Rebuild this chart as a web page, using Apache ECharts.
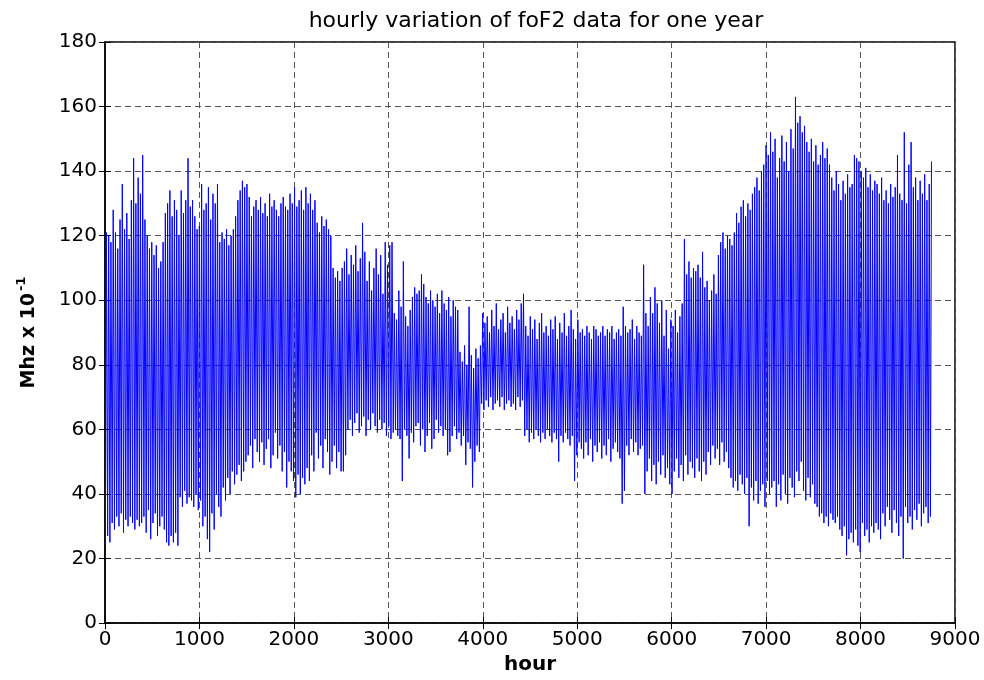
<!DOCTYPE html>
<html>
<head>
<meta charset="utf-8">
<script src="https://cdn.jsdelivr.net/npm/echarts@6/dist/echarts.min.js"></script>
<style>
html,body{margin:0;padding:0;background:#fff;}
#chart{width:984px;height:680px;}
</style>
</head>
<body>
<div id="chart"></div>
<script>
// Estimated daily maximum of foF2 (MHz x 10^-1), day 0..364
const dayMax = [
121,120,118,128,121,116,125,136,122,127,
119,131,144,130,138,133,145,125,120,116,
118,114,117,110,112,118,127,130,134,126,
131,128,120,134,127,131,144,129,131,126,
122,123,136,128,130,135,125,133,130,136,
118,121,119,122,117,120,122,126,131,134,
137,135,136,132,126,129,131,128,132,127,
130,126,133,129,131,128,126,130,132,129,
128,133,130,135,129,131,134,128,135,130,
133,128,131,124,121,126,123,125,122,120,
110,107,109,106,110,112,116,108,114,111,
117,109,113,124,115,106,112,103,110,116,
108,114,102,118,111,117,118,96,94,103,
98,112,95,92,97,101,104,102,103,108,
105,101,99,103,100,98,102,96,103,99,
97,101,95,100,98,97,84,81,86,80,
98,83,79,85,82,86,96,93,95,90,
97,92,99,91,94,96,90,98,93,95,
91,97,94,99,102,92,89,95,91,94,
88,93,96,90,92,89,94,91,95,88,
93,90,96,89,92,97,91,88,94,90,
91,89,92,90,88,92,91,89,90,92,
89,91,90,92,88,90,91,89,98,92,
90,91,94,88,92,90,89,111,96,92,
101,96,104,99,93,100,89,97,85,94,
92,97,90,95,99,119,108,112,107,110,
109,111,107,115,104,106,100,103,108,102,
114,118,121,116,120,119,117,121,127,124,
129,131,126,130,128,133,135,138,134,140,
142,148,145,152,146,150,138,144,151,143,
149,140,153,147,163,155,157,152,154,149,
146,150,143,148,142,145,149,144,147,142,
138,134,140,136,131,137,133,139,135,136,
145,144,143,140,138,141,135,139,134,137,
136,133,138,131,134,130,136,132,135,145,
133,131,152,130,142,149,135,138,131,137,
133,139,131,136,143
];
// Estimated daily minimum of foF2 (MHz x 10^-1), day 0..364
const dayMin = [
24,27,25,31,29,33,30,34,28,32,
30,33,31,29,32,30,31,33,28,35,
26,31,34,27,30,33,29,25,24,27,
25,28,24,39,36,41,37,39,38,36,
40,35,38,30,33,26,22,34,29,40,
36,33,42,38,45,40,47,43,46,49,
44,47,50,52,55,48,57,53,50,56,
49,54,57,48,52,59,51,55,47,53,
42,50,47,44,39,46,40,45,43,48,
44,52,47,59,51,55,48,57,53,46,
50,55,48,53,47,47,52,60,63,58,
62,65,59,61,64,58,63,60,65,61,
59,63,60,62,58,61,57,59,60,58,
57,44,60,58,51,59,56,61,62,55,
60,53,58,62,54,57,63,59,61,58,
60,52,53,58,61,57,59,55,58,49,
56,54,42,50,55,53,68,66,69,67,
70,66,68,69,67,70,66,68,69,67,
68,66,70,67,69,58,60,56,59,57,
60,58,56,59,57,60,58,56,59,57,
50,58,56,59,57,55,58,44,52,56,
54,51,56,52,57,50,55,53,56,51,
55,52,57,50,54,56,53,51,37,41,
55,52,57,53,56,52,54,55,40,47,
51,44,49,43,50,46,52,45,48,43,
40,47,51,45,49,44,52,46,50,48,
45,51,47,44,50,46,53,49,55,51,
54,49,56,50,53,48,45,42,44,41,
46,43,40,45,30,42,38,44,37,41,
43,36,44,40,42,44,36,43,38,46,
40,37,45,42,39,47,44,50,41,38,
45,39,43,37,36,33,34,31,33,30,
34,32,31,33,29,27,30,21,26,28,
25,29,24,22,31,27,29,25,30,28,
31,29,26,34,30,36,32,28,35,31,
27,33,20,36,31,33,29,35,32,37,
30,34,36,31,33
];
const minHour = 4;   // hour of day of nightly minimum
const maxHour = 15;  // hour of day of daily maximum
const xTicks = [0,1000,2000,3000,4000,5000,6000,7000,8000,9000];
const yTicks = [0,20,40,60,80,100,120,140,160,180];

const seriesData = [];
for (let d = 0; d < dayMax.length; d++) {
  seriesData.push([d*24 + minHour, dayMin[d]]);
  seriesData.push([d*24 + maxHour, dayMax[d]]);
}

const FONT = 'DejaVu Sans';
const plain = v => String(v);
const gridLine = {show:true, lineStyle:{color:'#555', type:[6,4], width:1}};
const chart = echarts.init(document.getElementById('chart'), null, {renderer:'canvas'});
chart.setOption({
  animation:false,
  backgroundColor:'#ffffff',
  title:{
    text:'hourly variation of foF2 data for one year',
    left:531, top:5, textAlign:'center',
    textStyle:{fontFamily:FONT, fontSize:22, fontWeight:'normal', color:'#000'}
  },
  grid:{left:105, right:29, top:42, bottom:56, show:true, borderColor:'#000', borderWidth:1.5, backgroundColor:'#fff'},
  xAxis:[{
    type:'value', min:xTicks[0], max:xTicks[xTicks.length-1], interval:1000,
    name:'hour', nameLocation:'middle', nameGap:31,
    nameTextStyle:{fontFamily:FONT, fontSize:20, fontWeight:'bold', color:'#000'},
    axisLine:{show:true, lineStyle:{color:'#000', width:1.5}},
    axisTick:{show:true, inside:true, length:6, lineStyle:{color:'#000'}},
    axisLabel:{fontFamily:FONT, fontSize:20, color:'#000', margin:7, formatter:plain},
    splitLine:gridLine
  },{
    type:'value', position:'top', min:xTicks[0], max:xTicks[xTicks.length-1], interval:1000,
    axisLine:{show:false}, axisTick:{show:true, inside:true, length:6, lineStyle:{color:'#000'}},
    axisLabel:{show:false}, splitLine:{show:false}
  }],
  yAxis:[{
    type:'value', min:yTicks[0], max:yTicks[yTicks.length-1], interval:20,
    name:'{a|Mhz x 10}{b|-1}', nameLocation:'middle', nameGap:66, nameRotate:90,
    nameTextStyle:{
      color:'#000',
      rich:{
        a:{fontFamily:FONT, fontSize:19, fontWeight:'bold', color:'#000', lineHeight:24, verticalAlign:'bottom'},
        b:{fontFamily:FONT, fontSize:13, fontWeight:'bold', color:'#000', lineHeight:24, verticalAlign:'top', padding:[0,0,8,2]}
      }
    },
    axisLine:{show:true, lineStyle:{color:'#000', width:1.5}},
    axisTick:{show:true, inside:true, length:6, lineStyle:{color:'#000'}},
    axisLabel:{fontFamily:FONT, fontSize:20, color:'#000', margin:8, formatter:plain},
    splitLine:gridLine
  },{
    type:'value', position:'right', min:yTicks[0], max:yTicks[yTicks.length-1], interval:20,
    axisLine:{show:false}, axisTick:{show:true, inside:true, length:6, lineStyle:{color:'#000'}},
    axisLabel:{show:false}, splitLine:{show:false}
  }],
  series:[{
    type:'line', xAxisIndex:0, yAxisIndex:0,
    data:seriesData, showSymbol:false, symbol:'none',
    lineStyle:{color:'#0000ff', width:1},
    sampling:null, z:3
  }]
});
</script>
</body>
</html>
